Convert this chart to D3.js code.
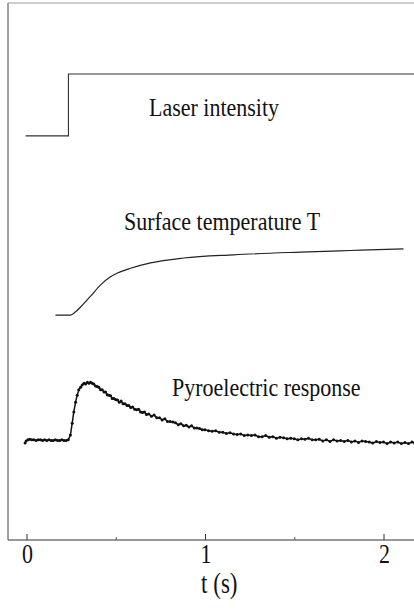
<!DOCTYPE html>
<html>
<head>
<meta charset="utf-8">
<script src="https://cdn.jsdelivr.net/npm/d3@7"></script>
<style>
  html, body { margin: 0; padding: 0; background: #fff; }
  svg { display: block; }
  text { font-family: "Liberation Serif", "Times New Roman", "DejaVu Serif", serif; fill: #111; }
</style>
</head>
<body>
<svg id="chart" width="414" height="615"></svg>
<script>
// ---- data (time in s, signal in arbitrary units) ----
const tickValues = [0, 1, 2];
const minorTickValues = [0.5, 1.5];
const tickLabels = ["0", "1", "2"];
const xLabel = "t (s)";
const seriesNames = ["Laser intensity", "Surface temperature T", "Pyroelectric response"];

const laserT = [-0.005, 0.235, 0.235, 2.175];
const laserV = [7.53, 7.53, 8.68, 8.68];

const tempT = [0.162, 0.246, 0.275, 0.303, 0.359, 0.415, 0.471, 0.510, 0.583, 0.695, 0.880, 1.160, 1.535, 1.815, 2.112];
const tempV = [4.20, 4.20, 4.26, 4.35, 4.55, 4.76, 4.91, 4.98, 5.07, 5.17, 5.26, 5.32, 5.37, 5.40, 5.43];

const pyroT = [-0.008, -0.002, 0.008, 0.018, 0.030, 0.042, 0.054, 0.066, 0.078, 0.090, 0.102, 0.114, 0.126, 0.138, 0.150, 0.162, 0.174, 0.186, 0.198, 0.210, 0.222, 0.234,
  0.246, 0.256, 0.265, 0.275, 0.284, 0.293, 0.303, 0.312, 0.322, 0.331, 0.341, 0.350, 0.359, 0.368, 0.377, 0.387, 0.396, 0.405, 0.415, 0.424, 0.434, 0.443, 0.452, 0.461, 0.471, 0.480, 0.490, 0.499,
  0.510, 0.520, 0.530, 0.541, 0.552, 0.563, 0.573, 0.584, 0.595, 0.606, 0.617, 0.628, 0.639, 0.650, 0.661, 0.672, 0.685, 0.700, 0.715, 0.730, 0.745, 0.760, 0.775, 0.790, 0.805, 0.820, 0.835, 0.850, 0.865, 0.880, 0.895, 0.910, 0.925, 0.940, 0.955, 0.970, 0.985,
  1.000, 1.020, 1.040, 1.060, 1.080, 1.100, 1.120, 1.140, 1.160, 1.180, 1.200, 1.220, 1.240, 1.260, 1.280, 1.300, 1.320, 1.340, 1.360, 1.380, 1.400, 1.420, 1.440, 1.460, 1.480, 1.500,
  1.520, 1.540, 1.560, 1.580, 1.600, 1.620, 1.640, 1.660, 1.680, 1.700, 1.720, 1.740, 1.760, 1.780, 1.800, 1.820, 1.840, 1.860, 1.880, 1.900, 1.920, 1.940, 1.960, 1.980, 2.000,
  2.020, 2.040, 2.060, 2.080, 2.100, 2.120, 2.140, 2.160, 2.175];
const pyroV = [1.82, 1.86, 1.88, 1.89, 1.88, 1.88, 1.87, 1.88, 1.88, 1.87, 1.88, 1.87, 1.88, 1.87, 1.87, 1.88, 1.87, 1.87, 1.88, 1.87, 1.87, 1.88,
  1.97, 2.19, 2.40, 2.58, 2.71, 2.81, 2.86, 2.90, 2.93, 2.92, 2.95, 2.93, 2.95, 2.93, 2.92, 2.88, 2.87, 2.86, 2.81, 2.81, 2.77, 2.77, 2.72, 2.71, 2.70, 2.65, 2.65, 2.63,
  2.62, 2.58, 2.60, 2.55, 2.55, 2.52, 2.52, 2.48, 2.49, 2.45, 2.44, 2.45, 2.40, 2.39, 2.40, 2.35, 2.36, 2.32, 2.34, 2.29, 2.29, 2.25, 2.27, 2.22, 2.22, 2.21, 2.20, 2.16, 2.18, 2.14, 2.15, 2.12, 2.14, 2.10, 2.10, 2.09, 2.07,
  2.07, 2.05, 2.04, 2.05, 2.02, 2.02, 2.00, 2.01, 1.99, 1.98, 1.99, 1.96, 1.97, 1.96, 1.97, 1.94, 1.94, 1.96, 1.93, 1.94, 1.91, 1.93, 1.92, 1.90, 1.91, 1.90,
  1.88, 1.90, 1.89, 1.91, 1.88, 1.88, 1.89, 1.86, 1.88, 1.85, 1.88, 1.86, 1.87, 1.85, 1.87, 1.84, 1.86, 1.83, 1.86, 1.85, 1.84, 1.82, 1.85, 1.83, 1.84,
  1.81, 1.84, 1.82, 1.84, 1.81, 1.83, 1.81, 1.84, 1.82];

// ---- layout ----
const W = 414, H = 615;
const axisLeft = 8, axisBottom = 540, plotTop = 3;
const svg = d3.select("#chart");

const x = d3.scaleLinear().domain([0, 2]).range([26.5, 383.5]);
const y = d3.scaleLinear().domain([0, 10]).range([541, 3]);

// frame: left axis, faint top border
svg.append("line").attr("x1", axisLeft).attr("x2", axisLeft).attr("y1", plotTop).attr("y2", axisBottom)
  .attr("stroke", "#444").attr("stroke-width", 1);
svg.append("line").attr("x1", axisLeft).attr("x2", W).attr("y1", plotTop).attr("y2", plotTop)
  .attr("stroke", "#999").attr("stroke-width", 1);

// bottom axis with inward ticks
const axisG = svg.append("g").attr("transform", `translate(0,${axisBottom})`);
axisG.append("line").attr("x1", axisLeft).attr("x2", W).attr("y1", 0).attr("y2", 0)
  .attr("stroke", "#333").attr("stroke-width", 1);
const majorAxis = d3.axisTop(x).tickValues(tickValues).tickSize(6).tickFormat("");
const gMaj = axisG.append("g").call(majorAxis);
gMaj.select(".domain").remove();
gMaj.selectAll(".tick line").attr("stroke", "#333");
const minorAxis = d3.axisTop(x).tickValues(minorTickValues).tickSize(3).tickFormat("");
const gMin = axisG.append("g").call(minorAxis);
gMin.select(".domain").remove();
gMin.selectAll(".tick line").attr("stroke", "#555");

// tick labels (slightly stretched vertically like the scan)
tickValues.forEach((v, i) => {
  svg.append("text")
    .attr("transform", `translate(${x(v) + 1},563) scale(1,1.22)`)
    .attr("text-anchor", "middle").attr("font-size", 22)
    .text(tickLabels[i]);
});
svg.append("text")
  .attr("transform", `translate(${x(1.08)},593) scale(1,1.3)`)
  .attr("text-anchor", "middle").attr("font-size", 23)
  .text(xLabel);

// series
const line = d3.line().x(d => x(d[0])).y(d => y(d[1]));
const laser = laserT.map((t, i) => [t, laserV[i]]);
const temp = tempT.map((t, i) => [t, tempV[i]]);
const pyro = pyroT.map((t, i) => [t, pyroV[i]]);

svg.append("path").datum(laser).attr("d", line)
  .attr("fill", "none").attr("stroke", "#333").attr("stroke-width", 1.1);

svg.append("path").datum(temp).attr("d", d3.line().x(d => x(d[0])).y(d => y(d[1])).curve(d3.curveMonotoneX))
  .attr("fill", "none").attr("stroke", "#222").attr("stroke-width", 1.2);

svg.append("path").datum(pyro).attr("d", line)
  .attr("fill", "none").attr("stroke", "#111").attr("stroke-width", 1.5);
svg.append("g").selectAll("circle").data(pyro).join("circle")
  .attr("cx", d => x(d[0])).attr("cy", d => y(d[1])).attr("r", 1.5)
  .attr("fill", "#111");

// labels
const labelPos = [[149, 116], [124, 230], [172, 396]];
seriesNames.forEach((s, i) => {
  svg.append("text")
    .attr("transform", `translate(${labelPos[i][0]},${labelPos[i][1]}) scale(1,1.15)`)
    .attr("font-size", 22)
    .text(s);
});
</script>
</body>
</html>
